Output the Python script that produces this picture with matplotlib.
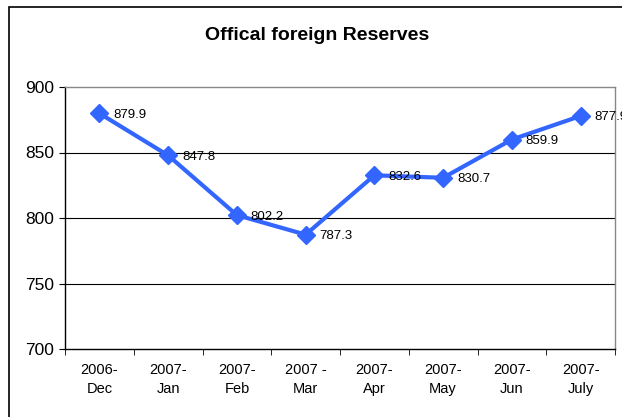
import matplotlib
matplotlib.use("Agg")
import matplotlib.pyplot as plt
from matplotlib.patches import Rectangle

plt.rcParams['font.family'] = ['Liberation Sans', 'DejaVu Sans']

categories = ["2006-\nDec", "2007-\nJan", "2007-\nFeb", "2007 -\nMar",
              "2007-\nApr", "2007-\nMay", "2007-\nJun", "2007-\nJuly"]
reserves = [879.9, 847.8, 802.2, 787.3, 832.6, 830.7, 859.9, 877.9]
y_ticks = [700, 750, 800, 850, 900]

fig = plt.figure(figsize=(6.22, 4.17), dpi=100)

# outer chart frame (extends past the right and bottom edges)
fig.patches.append(Rectangle((9 / 622, -0.05), 1.2, 1 - 7 / 417 + 0.05,
                             transform=fig.transFigure, fill=False,
                             edgecolor='black', linewidth=1.2, zorder=0))

ax = fig.add_axes([65 / 622, 68 / 417, 550 / 622, 262 / 417])
x = list(range(len(categories)))

ax.plot(x, reserves, color='#3366FF', linewidth=3, marker='D',
        markersize=9, clip_on=False, zorder=3)
for xi, v in zip(x, reserves):
    ax.annotate(f"{v:.1f}", (xi, v), xytext=(10, -1), textcoords='offset points',
                fontsize=9.5, va='center', ha='left', color='black',
                annotation_clip=False, zorder=4)

ax.set_xlim(-0.5, len(categories) - 0.5)
ax.set_ylim(700, 900)
ax.set_yticks(y_ticks)
ax.set_yticklabels([str(t) for t in y_ticks], fontsize=12.5)
ax.set_xticks(x)
ax.set_xticklabels(categories, fontsize=10.5, linespacing=1.45)
ax.tick_params(axis='x', length=0, pad=10)
ax.set_xticks([i - 0.5 for i in range(len(categories) + 1)], minor=True)
ax.tick_params(axis='x', which='minor', length=4, direction='out', color='black')
ax.tick_params(axis='y', length=4, direction='out', pad=4)

for t in y_ticks[1:4]:
    ax.axhline(t, color='black', linewidth=0.8, zorder=1)

ax.spines['top'].set_color('#888888')
ax.spines['right'].set_color('#888888')
ax.spines['left'].set_color('black')
ax.spines['bottom'].set_color('black')
for s in ax.spines.values():
    s.set_linewidth(1)

fig.text(317 / 622, 1 - 35 / 417, "Offical foreign Reserves", ha='center',
         va='center', fontsize=14, fontweight='bold')

fig.savefig("out.png", dpi=100)
